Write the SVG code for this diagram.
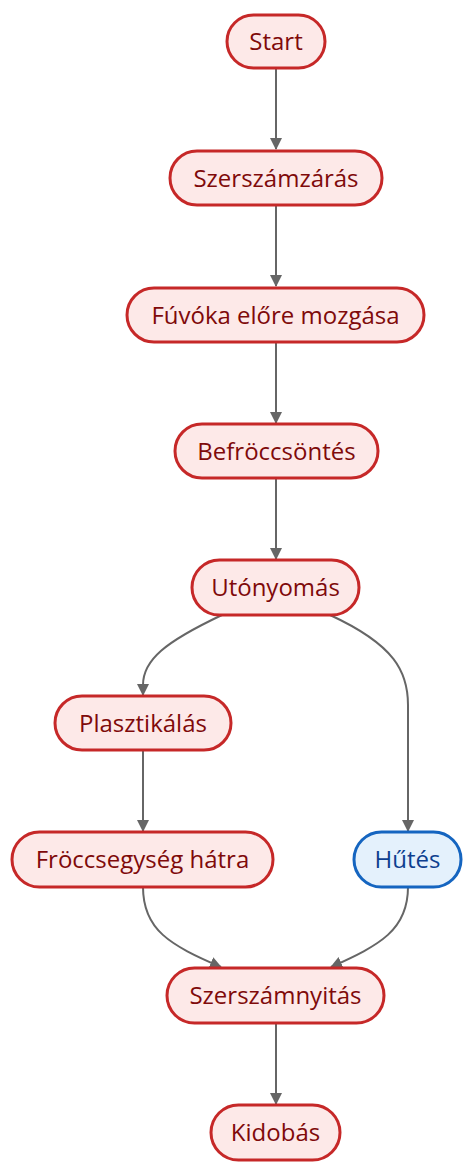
<svg xmlns="http://www.w3.org/2000/svg" width="474" height="1174" viewBox="0 0 474 1174">
<style>
.n rect{fill:#fde9e8;stroke:#c62828;stroke-width:3}
.n text{fill:#7f0a0a}
.b rect{fill:#e4f1fc;stroke:#1565c0;stroke-width:3}
.b text{fill:#0d3f8f}
text{font-family:"Open Sans","Liberation Sans",sans-serif;font-size:24px;text-anchor:middle;dominant-baseline:central}
.e path{fill:none;stroke:#666;stroke-width:2}
</style>
<defs>
<marker id="ah" viewBox="0 0 12 12" refX="11" refY="6" markerWidth="12" markerHeight="12" markerUnits="userSpaceOnUse" orient="auto">
<path d="M0,0 L12,6 L0,12 z" fill="#666"/>
</marker>
</defs>
<g class="e">
<path d="M276,68 L276,149" marker-end="url(#ah)"/>
<path d="M276,205 L276,286" marker-end="url(#ah)"/>
<path d="M276,342 L276,423" marker-end="url(#ah)"/>
<path d="M276,478 L276,559" marker-end="url(#ah)"/>
<path d="M222,615 C165,642 143,660 143,685 L143,695" marker-end="url(#ah)"/>
<path d="M330,615 C395,645 408,672 408,705 L408,831" marker-end="url(#ah)"/>
<path d="M143,750 L143,831" marker-end="url(#ah)"/>
<path d="M143,887 C143,930 170,945 221,967" marker-end="url(#ah)"/>
<path d="M408,887 C408,930 380,945 331,967" marker-end="url(#ah)"/>
<path d="M276,1023 L276,1104" marker-end="url(#ah)"/>
</g>
<g id="start" class="n"><rect x="227" y="15" width="98" height="53" rx="26.5"/><text x="276" y="40.5">Start</text></g>
<g id="szerszamzaras" class="n"><rect x="170" y="151" width="212" height="54" rx="27"/><text x="276" y="177">Szerszámzárás</text></g>
<g id="fuvoka" class="n"><rect x="127" y="288" width="297" height="54" rx="27"/><text x="275.5" y="314">Fúvóka előre mozgása</text></g>
<g id="befroccsontes" class="n"><rect x="175" y="424" width="203" height="54" rx="27"/><text x="276.5" y="450">Befröccsöntés</text></g>
<g id="utonyomas" class="n"><rect x="192" y="560" width="167" height="55" rx="27.5"/><text x="275.5" y="586.5">Utónyomás</text></g>
<g id="plasztikalas" class="n"><rect x="55" y="696" width="176" height="54" rx="27"/><text x="143" y="722">Plasztikálás</text></g>
<g id="froccsegyseg" class="n"><rect x="12" y="832" width="261" height="55" rx="27.5"/><text x="142.5" y="858.5">Fröccsegység hátra</text></g>
<g id="hutes" class="b"><rect x="354" y="832" width="107" height="55" rx="27.5"/><text x="407.5" y="858.5">Hűtés</text></g>
<g id="szerszamnyitas" class="n"><rect x="167" y="968" width="217" height="55" rx="27.5"/><text x="275.5" y="994.5">Szerszámnyitás</text></g>
<g id="kidobas" class="n"><rect x="211" y="1105" width="129" height="55" rx="27.5"/><text x="275.5" y="1131.5">Kidobás</text></g>
</svg>
